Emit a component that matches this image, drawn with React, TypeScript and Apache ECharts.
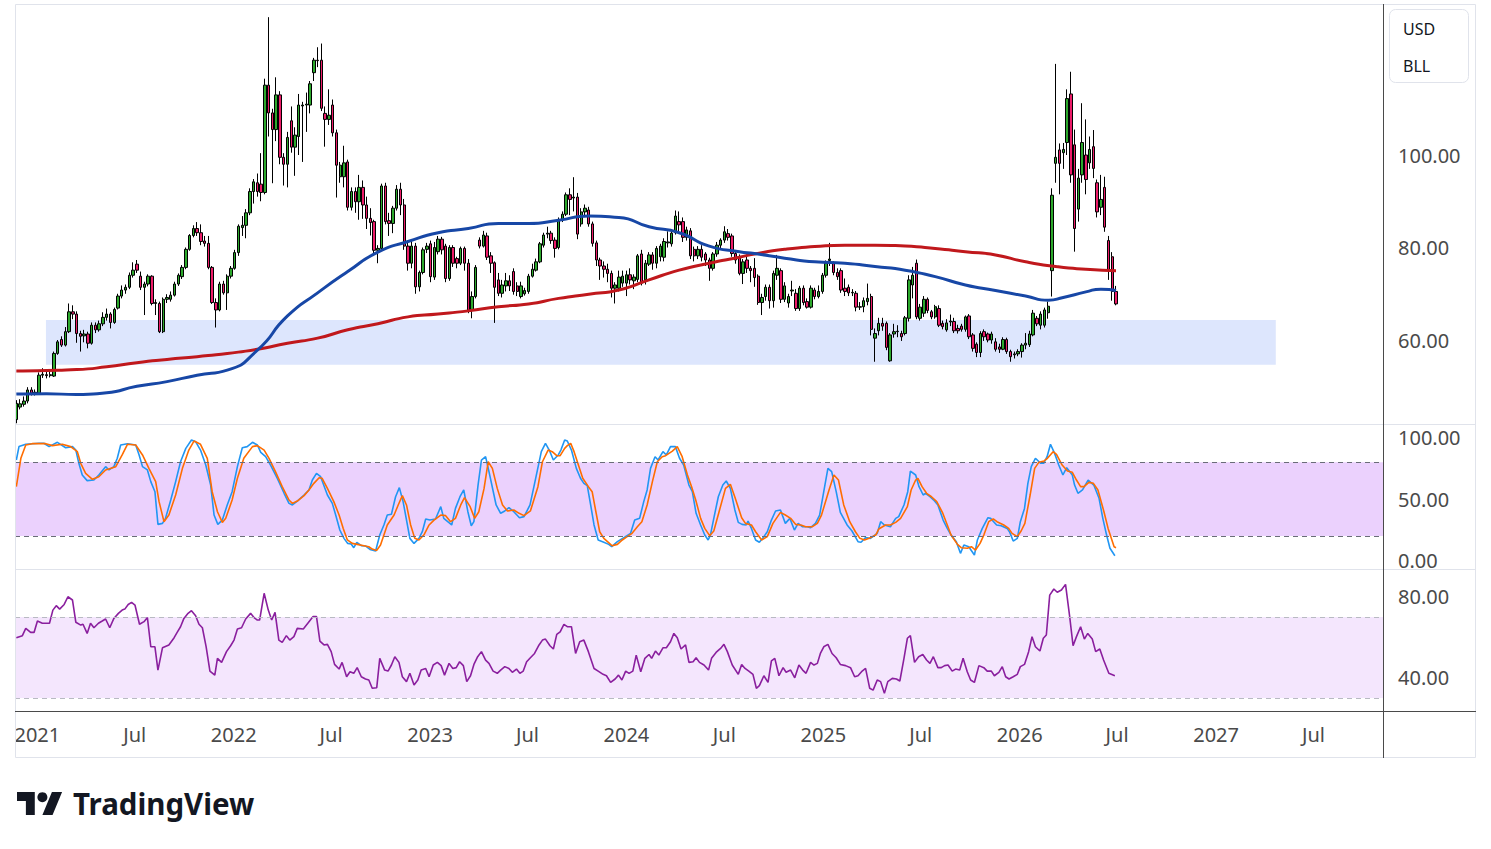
import React, { useEffect, useRef } from "react";
import * as echarts from "echarts";

echarts.graphic.registerShape(
  "tvlogo",
  echarts.graphic.extendPath("M14 22H7V11H0V4h14v18zM28 22h-8l7.5-18h8L28 22z", {})
);

// weekly candles from 2020-11-23: [open, close, low, high]
const candles: number[][] = [
  [42.8,46.3,42.0,47.0],[45.5,46.2,45.0,47.2],[46.1,46.8,45.6,47.8],[46.8,49.2,46.3,49.8],[49.2,48.5,48.0,49.8],
  [48.5,48.7,48.0,49.3],[48.5,52.4,48.2,53.0],[52.4,52.6,51.8,53.9],[52.5,52.3,51.7,53.6],[52.3,52.5,51.9,53.3],
  [52.2,57.1,52.0,57.5],[57.1,59.6,56.8,60.0],[60.1,58.9,58.5,60.8],[58.9,61.8,58.6,62.8],[61.8,66.1,61.5,67.9],
  [66.1,65.6,64.5,67.5],[65.6,61.4,59.4,66.2],[61.4,60.8,57.5,62.0],[60.9,61.3,59.5,62.2],[61.3,59.3,58.2,61.8],
  [59.3,63.2,59.0,63.8],[63.2,62.2,61.5,63.8],[62.2,63.5,61.8,64.2],[63.5,64.9,63.0,66.0],[64.9,65.6,64.2,66.8],
  [65.6,63.8,62.5,66.0],[63.8,66.6,63.5,67.0],[66.9,69.5,66.6,70.0],[69.5,70.8,69.0,71.8],[70.8,71.4,70.0,72.0],
  [71.4,74.0,71.0,74.6],[74.0,75.1,73.5,76.8],[76.4,75.1,74.5,77.3],[73.8,71.4,70.8,74.8],[71.4,72.1,65.4,72.6],
  [72.1,73.8,71.6,74.2],[73.8,67.9,67.5,74.0],[67.9,68.1,65.4,68.8],[67.9,61.8,61.5,68.3],[61.8,68.8,61.5,69.2],
  [68.8,69.2,68.0,69.9],[68.8,69.7,68.3,70.5],[69.7,72.1,69.4,72.6],[72.1,74.0,71.7,74.4],[73.7,75.7,73.2,76.2],
  [75.7,79.6,75.3,80.0],[79.6,82.6,79.3,82.9],[82.6,84.1,82.2,84.8],[84.1,83.2,82.5,85.5],[83.2,81.3,80.5,85.0],
  [81.4,80.9,80.2,82.5],[80.9,75.7,75.3,82.5],[75.7,68.1,67.8,76.0],[68.1,66.5,62.7,69.0],[66.5,72.1,66.2,72.6],
  [72.1,70.2,69.8,72.8],[70.2,73.8,66.5,74.2],[73.8,75.5,73.3,76.0],[75.5,78.9,75.2,79.5],[78.9,84.6,78.2,85.0],
  [84.3,84.8,82.5,86.8],[84.8,87.5,82.0,88.3],[87.5,92.1,87.0,92.8],[92.1,94.2,89.5,94.8],[94.0,92.1,91.0,96.0],
  [93.7,91.9,90.0,100.4],[91.9,115.1,91.5,116.5],[115.1,109.1,104.0,129.8],[109.1,105.5,93.9,110.0],[105.5,113.0,103.0,116.8],
  [113.0,99.5,98.0,113.8],[99.5,98.0,93.4,100.4],[98.0,103.8,93.0,105.0],[107.4,101.7,100.5,110.5],[101.7,104.3,95.5,106.0],
  [104.0,110.8,100.0,113.2],[110.6,110.8,98.5,111.5],[110.8,111.0,105.0,113.5],[110.8,115.4,109.0,116.0],[117.8,120.5,116.0,121.0],
  [120.5,120.4,119.0,123.3],[120.5,110.1,109.5,124.1],[109.0,107.7,101.8,110.5],[107.7,108.6,106.5,114.2],[110.8,104.8,104.0,112.0],
  [104.8,97.8,90.8,105.5],[95.3,97.8,94.0,98.5],[95.3,98.3,93.0,102.0],[98.5,88.7,88.0,99.0],[88.7,92.1,88.0,93.0],
  [92.1,89.9,87.5,93.0],[89.9,93.0,86.0,95.7],[93.0,89.2,86.2,94.5],[89.2,86.3,84.0,91.0],[86.3,85.4,82.6,88.5],
  [85.6,79.4,78.5,86.0],[79.4,79.8,76.6,80.5],[79.8,93.3,79.5,93.8],[93.3,85.6,85.0,94.0],[85.8,85.2,82.5,87.5],
  [85.2,88.5,83.1,89.0],[88.5,92.6,88.0,93.5],[92.6,89.2,87.0,94.0],[89.2,80.3,79.5,90.5],[80.3,76.6,75.0,81.5],
  [76.6,80.3,75.5,81.5],[80.3,71.5,70.0,81.0],[71.5,74.6,70.5,75.0],[74.6,79.5,74.2,80.0],[79.6,80.3,78.8,81.0],
  [80.8,73.7,72.5,81.5],[73.6,80.0,73.0,81.2],[79.1,81.8,78.5,82.5],[81.8,79.5,78.5,82.3],[80.3,73.3,72.5,80.8],
  [73.3,80.0,72.8,80.5],[80.0,76.6,75.8,80.5],[77.6,76.6,75.5,78.0],[76.6,79.8,76.2,80.2],[79.8,76.6,75.0,80.2],
  [76.6,66.4,65.8,77.5],[66.4,69.4,64.7,70.5],[69.4,75.7,69.0,76.2],[81.6,80.3,79.8,82.2],[80.3,82.7,80.0,83.6],
  [82.5,77.9,77.3,83.2],[78.2,76.6,74.5,79.0],[76.7,71.4,63.7,77.0],[73.0,70.1,69.5,74.5],[70.1,71.9,69.2,73.0],
  [71.7,72.8,70.5,74.5],[72.8,71.7,70.6,74.0],[74.8,70.5,69.8,75.5],[71.7,70.5,69.5,72.5],[69.4,71.7,69.0,72.6],
  [70.0,70.7,69.6,71.3],[70.5,73.8,70.0,74.3],[73.8,75.3,73.5,76.5],[75.1,76.9,74.8,77.6],[76.9,80.8,76.6,81.2],
  [80.5,82.7,80.0,83.2],[82.9,83.1,82.0,84.5],[83.1,81.5,80.8,83.6],[81.6,79.8,77.8,82.2],[80.0,86.0,79.6,86.5],
  [86.0,87.2,85.5,87.8],[87.2,91.4,86.8,91.9],[91.4,90.4,87.0,92.8],[90.7,90.9,87.8,95.2],[90.9,82.9,81.8,91.8],
  [85.1,87.7,84.5,88.5],[87.7,88.5,86.8,89.3],[88.1,85.1,84.5,88.8],[85.1,80.9,80.2,85.6],[81.0,77.3,76.0,81.5],
  [77.3,76.0,73.0,77.8],[76.0,75.3,73.5,77.0],[75.3,74.4,72.5,76.5],[74.4,71.2,69.2,75.0],[71.2,71.9,67.9,72.5],
  [71.2,73.6,70.5,75.0],[72.3,73.8,71.5,75.0],[72.3,74.1,69.5,75.0],[74.1,73.0,72.0,75.5],[72.8,73.6,71.0,74.2],
  [73.1,78.2,72.5,78.6],[78.6,72.3,71.8,79.5],[73.0,76.6,72.0,77.3],[76.4,78.4,76.0,79.0],[78.4,76.6,75.2,79.0],
  [76.6,79.8,75.5,80.3],[78.0,80.3,77.0,80.8],[77.9,81.3,77.0,82.0],[81.0,81.2,80.0,83.5],[80.8,83.1,80.2,84.0],
  [83.2,86.8,82.8,88.0],[85.6,84.9,83.5,87.8],[85.6,82.2,81.2,86.5],[82.2,83.8,81.5,84.5],[83.6,78.2,77.5,84.2],
  [79.6,78.2,77.0,80.2],[78.2,79.6,77.5,80.3],[79.6,77.9,77.0,80.5],[78.6,77.3,76.0,79.0],[77.3,75.5,72.8,77.8],
  [75.5,78.6,75.0,79.0],[78.6,80.5,78.0,81.2],[80.5,81.6,79.5,82.0],[81.6,83.4,81.0,84.6],[83.0,82.2,81.5,84.0],
  [82.5,78.7,78.0,83.0],[78.7,77.3,76.5,79.2],[78.0,74.4,74.0,78.5],[74.4,76.9,72.1,77.5],[77.3,75.5,74.5,78.5],
  [75.5,75.0,72.5,76.0],[75.5,73.5,71.5,77.7],[73.8,68.1,67.6,74.2],[68.1,69.2,65.4,70.0],[69.4,71.4,68.5,72.0],
  [71.4,68.5,66.8,72.0],[68.5,74.4,67.0,75.0],[74.0,75.5,73.0,78.4],[75.0,68.8,68.0,75.5],[68.8,71.7,68.2,72.5],
  [68.0,69.4,67.0,70.0],[70.6,70.8,69.5,72.8],[70.1,66.8,66.3,71.0],[66.8,71.2,66.3,71.7],[71.2,68.1,67.5,71.8],
  [68.3,67.1,66.8,69.0],[67.1,71.2,66.8,71.8],[70.8,69.4,68.8,71.3],[69.4,70.5,69.0,71.8],[70.5,74.0,70.0,74.5],
  [74.0,76.6,73.5,77.2],[77.2,77.5,76.0,81.0],[76.6,74.6,74.0,77.0],[74.6,73.7,73.0,75.5],[75.0,70.8,70.2,75.5],
  [71.2,70.5,69.5,73.3],[71.4,70.2,69.5,72.0],[70.2,70.3,69.5,71.0],[70.1,67.1,66.2,70.6],[67.1,67.2,66.5,68.2],
  [67.2,68.5,66.0,69.2],[68.3,69.0,67.5,72.2],[69.4,62.3,61.0,70.0],[60.4,61.4,55.3,62.5],[62.0,63.6,61.0,64.8],
  [63.6,63.0,62.0,64.8],[63.6,58.4,57.8,64.0],[55.5,61.1,55.3,61.5],[61.3,61.8,60.5,63.5],[61.8,61.9,60.6,63.2],
  [61.4,60.7,59.8,62.0],[61.4,64.8,61.0,65.2],[64.7,73.0,64.0,74.0],[71.9,74.0,69.0,75.8],[76.6,65.0,64.5,77.4],
  [64.7,67.1,64.2,67.8],[65.8,68.8,65.0,69.5],[68.8,66.4,65.8,69.2],[66.1,65.0,64.5,66.5],[65.0,67.2,64.6,67.6],
  [66.8,63.2,62.8,67.5],[63.6,62.9,62.3,64.2],[62.2,63.7,61.8,64.5],[63.9,64.1,63.0,65.5],[64.0,62.0,61.5,64.8],
  [62.5,62.0,61.4,63.3],[63.0,62.3,61.8,63.5],[62.3,65.0,61.8,65.3],[65.2,60.7,60.2,65.6],[61.1,58.2,57.5,61.5],
  [59.1,57.3,56.3,59.5],[57.3,61.4,56.3,61.9],[61.8,60.7,59.8,62.3],[61.3,60.0,59.5,61.6],[60.0,61.3,59.2,61.8],
  [59.6,58.0,57.5,60.4],[58.5,58.0,57.2,59.2],[58.0,60.1,57.8,60.6],[60.1,57.5,57.0,60.5],[57.5,56.4,55.3,57.9],
  [56.8,57.0,56.0,57.5],[57.0,57.5,56.5,58.0],[57.5,58.9,56.2,59.3],[58.9,59.3,58.0,61.5],[59.0,61.3,58.5,62.0],
  [61.1,65.8,60.8,66.5],[64.7,63.5,63.0,65.2],[63.2,65.6,62.3,66.2],[63.2,66.5,62.7,67.0],[65.9,67.3,64.6,68.3],
  [75.0,91.3,69.4,92.8],[98.2,99.5,94.0,119.7],[101.1,98.2,91.5,102.5],[100.5,101.2,97.0,102.6],[102.7,112.2,100.0,114.2],
  [113.2,95.7,94.0,118.0],[102.2,84.1,79.1,105.5],[88.3,95.0,85.6,97.0],[95.7,102.7,94.0,111.2],[100.0,94.7,91.5,107.7],
  [98.3,101.2,97.0,104.0],[101.8,97.1,95.0,105.4],[94.0,87.7,86.5,94.7],[88.7,90.4,87.0,95.7],[93.0,84.4,83.4,95.3],
  [81.5,75.1,73.0,82.5],[78.0,70.5,68.5,79.0],[70.5,67.8,67.5,71.7]
];

// moving averages: [week index, value]
const maBlue: number[][] = [
  [0,48.3],[8,48.4],[16,48.2],[24,48.6],[32,50.0],[40,51.0],[48,52.4],[56,53.5],[64,57.8],[72,65.2],
  [80,70.2],[88,74.8],[96,79.0],[104,81.3],[112,83.2],[120,84.1],[128,85.2],[136,85.2],[144,85.9],[152,86.8],
  [160,86.5],[168,84.5],[176,83.2],[184,80.3],[192,79.1],[196,78.7],[204,77.7],[212,76.9],[220,76.6],[228,75.9],
  [236,75.1],[244,73.7],[252,71.9],[260,70.7],[268,69.5],[274,68.6],[278,69.2],[284,70.4],[288,71.0],[292,70.7]
];
const maRed: number[][] = [
  [0,53.3],[8,53.4],[16,53.6],[24,54.2],[32,55.1],[40,55.8],[48,56.4],[56,57.1],[64,58.0],[72,59.3],
  [80,60.4],[88,62.2],[96,63.5],[104,65.0],[112,65.6],[120,66.3],[128,67.2],[136,67.8],[144,69.0],[152,69.9],
  [160,70.8],[168,73.0],[176,75.1],[184,76.6],[192,77.9],[196,78.6],[204,79.6],[212,80.2],[220,80.5],[228,80.5],
  [236,80.3],[244,79.8],[252,79.1],[260,78.4],[268,76.9],[276,75.9],[284,75.3],[292,75.0]
];

// stochastic %K / %D and RSI: [week index, value]
const stochK: number[][] = [
  [0,81.9],[0.7,92.8],[2.5,94.7],[6,95.5],[7.3,95.5],[8.7,92.8],[10.9,96.3],[13.1,91.9],[14.9,92.8],[15.8,90.0],[16.6,79.2],[17.5,69.7],[18.8,65.1],[20.6,65.6],[21.9,69.7],[23.7,76.5],[24.6,73.8],[25.9,76.5],[26.8,83.3],[27.7,94.1],[29.5,95.2],[31.7,94.1],[32.6,86.0],[33.5,76.5],[34.8,73.8],[35.7,64.3],[36.8,56.1],[37.6,29.5],[38.8,30.3],[39.6,34.4],[41,49.3],[42.3,64.3],[43.6,80.5],[45,91.4],[46.5,98.2],[47.6,96.8],[48.9,90.0],[50.3,77.8],[51.6,61.5],[52.5,37.1],[53.5,29.5],[54.7,33.0],[56,45.3],[57.3,56.1],[58.7,76.5],[60,91.9],[61.3,92.8],[62.7,96.3],[64,94.1],[64.9,88.1],[66.2,84.6],[67.5,77.8],[69.3,67.0],[71.1,54.8],[72.4,46.6],[73.3,45.3],
  [74.6,48.5],[76.4,53.4],[77.7,57.5],[78.6,65.6],[79.7,71.0],[80.8,68.3],[82.6,53.4],[83.9,46.6],[84.8,37.1],[85.9,24.9],[87,18.1],[88,14.0],[88.9,13.5],[89.6,10.5],[90.4,14.9],[91.6,12.1],[92.7,11.9],[93.9,9.1],[95.4,7.8],[96.5,20.8],[97.6,29.0],[98.5,37.1],[99.6,37.7],[100.7,52.0],[101.7,59.4],[102.7,48.0],[104.5,18.1],[105.6,14.0],[106.9,18.1],[107.8,23.5],[108.7,33.9],[109.8,33.0],[111.3,33.9],[112.7,43.9],[113.5,34.4],[115.6,29.0],[116.6,42.5],[117.8,52.0],[118.8,57.5],[119.9,39.8],[120.8,28.4],[121.5,31.7],[122.6,61.5],[123.5,81.9],[124.6,84.6],[125.5,72.4],[127.4,45.3],[128.6,38.5],[129.7,40.4],[130.8,43.1],[132.1,39.8],[133.6,34.9],[134.8,35.8],[136.4,45.3],[137.9,67.0],[139.4,88.7],[140.5,95.5],[141.5,90.0],[142.6,81.9],[143.9,86.0],[144.6,90.0],[145.6,98.2],[146.3,97.4],
  [147.4,90.0],[148.7,75.1],[149.8,67.0],[150.7,62.9],[151.6,61.0],[152.5,45.3],[153.4,29.0],[154.5,16.8],[156,14.9],[157.3,13.2],[158.1,11.3],[159.6,15.4],[161.3,18.7],[163.1,22.2],[164.2,33.0],[165.5,34.4],[166.6,48.0],[167.5,57.5],[168.4,75.1],[169.6,84.6],[170.4,81.9],[171.7,88.7],[172.6,86.0],[173.7,92.8],[175,92.8],[176.1,83.3],[177.2,77.8],[178.6,61.5],[179.5,56.1],[180.5,38.5],[181.7,29.0],[182.8,20.8],[183.7,16.8],[184.3,20.8],[185.2,34.4],[186.4,52.0],[187.6,61.5],[188.5,64.8],[189.6,58.8],[190.8,41.2],[191.7,31.1],[192.7,29.5],[193.8,29.0],[194.3,32.2],[195.2,26.2],[196.3,16.8],[197.3,14.9],[198.5,19.5],[199.4,23.5],[200.5,33.0],[201.6,40.4],[202.9,41.2],[204.2,30.3],[205.4,34.4],[206.6,24.9],[207.6,30.3],[208.7,27.6],[210,27.6],[210.9,26.8],[212.2,30.3],[213.3,37.1],[214.4,56.1],[215.5,75.1],[216.5,72.4],[217.7,56.1],[218.8,39.3],
  [220.6,29.0],[221.9,24.1],[223.5,15.4],[224.3,14.9],[225.5,18.7],[226.8,18.1],[228.6,22.2],[229.5,31.7],[230.5,29.0],[232.1,27.6],[233.5,34.4],[234.3,35.8],[235.7,45.3],[236.7,56.1],[237.4,72.9],[238.8,69.7],[239.7,60.2],[240.8,53.4],[241.4,54.8],[242.6,52.0],[243.6,49.3],[244.7,45.3],[246.1,33.0],[247.2,26.2],[248.2,20.8],[249.6,15.4],[250.7,5.9],[251.6,12.7],[252.9,11.3],[254.4,4.5],[255.2,16.8],[256.5,26.2],[258,34.9],[258.7,34.4],[260.3,29.0],[261.5,28.4],[263.1,26.2],[263.8,23.0],[264.7,15.9],[265.8,18.1],[266.6,31.7],[267.7,42.5],[268.6,62.9],[269.5,76.5],[270.6,83.3],[272,79.2],[272.8,79.2],[273.7,84.6],[274.6,94.7],[275.7,87.3],[276.8,77.8],[277.9,69.7],[278.9,75.7],[280.4,69.7],[281,61.5],[281.9,54.8],[283.1,57.5],[284.6,65.6],[286.1,61.5],[287.5,50.7],[288.5,34.4],[289.5,20.8],[290.4,10.0],[291.7,4.0]
];
const stochD: number[][] = [
  [0,60.2],[1.2,83.3],[2.5,94.1],[4.2,95.2],[7.8,95.2],[9.6,93.6],[12.2,94.7],[14.4,92.8],[16.2,88.7],[17.1,79.2],[18.4,71.0],[20.2,66.2],[21.9,68.3],[23.7,73.8],[26.4,76.5],[28.1,86.0],[29.5,94.7],[31.7,94.1],[33.5,86.0],[35.2,75.1],[37,64.3],[37.9,48.0],[39.2,31.7],[40.5,37.1],[42.3,53.4],[44.1,75.1],[45.8,90.0],[47.2,97.4],[48.9,94.7],[50.7,83.3],[52,56.1],[53.4,39.8],[54.7,31.1],[55.6,34.4],[57.3,49.3],[58.7,67.0],[60.4,83.3],[62.7,92.8],[64,93.6],[65.8,90.0],[67.1,83.3],[68.8,72.4],[70.6,60.2],[72.4,49.3],[73.3,46.6],
  [74.6,48.5],[76.4,52.9],[77.7,57.5],[79,62.9],[80.4,67.5],[81.2,67.0],[82.6,58.8],[84.3,48.0],[85.7,37.1],[86.8,26.2],[87.9,16.8],[89.2,14.0],[90.5,13.2],[92.3,12.1],[93.6,11.3],[94.5,9.4],[95.7,8.3],[96.7,12.7],[98.5,29.0],[100.3,37.1],[101.4,45.3],[102.5,52.9],[103.6,45.3],[104.7,29.0],[105.8,18.1],[106.9,16.8],[108.2,20.8],[109.6,29.0],[110.9,33.0],[112.7,37.1],[114,36.6],[115.3,31.7],[116.6,34.4],[118,45.3],[119,51.2],[120.5,43.9],[121.7,34.4],[122.8,39.8],[124.2,58.8],[125.3,80.5],[126.4,75.1],[127.7,58.8],[129.1,45.3],[130.4,40.4],[132.1,41.2],[133.5,38.5],[134.8,36.6],[136.5,40.4],[138.5,60.2],[139.7,80.5],[141.2,90.0],[142.3,88.7],[143.5,85.4],[144.4,85.4],[145.6,91.4],[146.3,93.6],
  [147.2,95.5],[148.1,88.7],[149.4,76.5],[150.4,67.0],[151.9,60.2],[152.9,56.1],[153.8,41.2],[154.9,23.5],[156,18.1],[157.2,14.9],[158.2,12.1],[159.6,13.2],[160.9,16.8],[162.2,19.5],[163.5,22.2],[164.9,27.6],[166.1,31.7],[167.5,45.3],[168.9,64.3],[170.2,80.5],[171.5,84.6],[172.4,85.4],[174.2,89.2],[175.5,92.8],[176.8,84.6],[178.2,69.7],[179.3,60.2],[180.4,49.3],[181.7,34.4],[182.8,26.2],[184.1,20.3],[185.2,24.1],[186.6,39.8],[188.3,58.8],[189.6,62.1],[190.9,50.7],[192.6,34.9],[193.6,30.3],[195.2,29.0],[196.3,23.5],[197.9,16.8],[199.4,19.5],[200.9,30.3],[202.9,39.3],[204.2,37.1],[205.6,34.4],[206.9,29.5],[208.3,29.0],[209.6,27.6],[211.4,27.6],[212.7,30.3],[213.8,37.1],[215.8,57.5],[217.1,69.7],[218.3,65.6],
  [219.7,45.3],[221.3,31.7],[222.8,23.5],[224,18.1],[225.2,16.8],[226.8,18.7],[228.2,20.8],[229,25.7],[230.8,29.0],[232.1,29.0],[233.5,31.1],[234.8,34.4],[236.6,43.9],[237.6,57.5],[238.8,65.6],[239.4,67.0],[240.5,60.2],[241.7,54.8],[243,52.0],[244.4,48.0],[245.9,39.3],[247.2,29.0],[248.2,20.8],[249.9,13.2],[250.9,10.5],[252.5,10.0],[253.6,11.3],[254.7,8.6],[255.9,14.0],[256.9,20.8],[258.2,31.7],[259.4,33.9],[260.4,31.7],[262.2,29.0],[263.5,26.2],[264.4,22.2],[265.8,19.5],[266.8,24.1],[267.8,30.3],[269.2,53.4],[270.4,75.1],[271.5,80.0],[272.9,81.1],[273.8,83.3],[275.3,88.7],[276.2,86.5],[277.7,77.8],[279.1,72.9],[280.4,71.9],[281.5,65.6],[282.6,60.2],[283.5,60.2],[284.8,63.7],[286,62.9],[287.2,57.5],[288.8,39.8],[289.9,26.2],[291.5,11.3],[292,10.5]
];
const rsi: number[][] = [
  [0,59.8],[1.6,60.8],[2.5,64.4],[3.8,62.4],[4.7,62.4],[5.6,68.0],[6.9,66.9],[8.8,66.9],[9.7,73.4],[10.6,75.6],[11.5,73.9],[12.7,76.2],[13.7,80.0],[14.9,78.4],[15.8,67.4],[17.1,66.0],[17.7,66.4],[18.8,61.9],[19.7,66.9],[20.6,64.7],[21.8,66.9],[22.8,68.0],[23.7,69.0],[24.8,64.7],[25.9,69.3],[27.1,71.8],[28.1,73.4],[28.8,73.9],[29.7,76.2],[30.6,77.2],[31.5,75.9],[32.7,66.4],[33.9,67.7],[34.8,69.7],[35.7,55.3],[36.8,55.3],[37.6,43.8],[38.8,54.8],[40.5,56.2],[41.9,59.8],[42.7,62.4],[43.6,65.2],[44.5,69.3],[45.6,71.8],[46.5,73.1],[47.6,70.6],[48.5,66.4],[49.4,64.7],[50.4,55.3],[51.4,43.3],[52.7,41.3],[53.4,49.6],[54.5,47.6],[55.8,52.9],[56.9,55.8],[57.8,58.6],[58.7,64.1],[59.8,64.7],[60.9,69.0],[62.2,71.8],[63.1,69.7],[64,68.5],[64.6,68.5],[65.8,81.7],[66.9,73.4],[67.8,68.5],[68.7,72.3],[69.7,58.6],[70.6,57.5],[71.7,60.8],[72.6,58.6],
  [73.7,60.3],[74.6,64.4],[76.2,64.1],[77.4,66.9],[78.8,70.2],[79.7,70.2],[80.6,58.1],[81.7,56.2],[82.6,56.5],[83.6,52.9],[84.5,46.6],[85.7,44.3],[86.5,47.6],[87.7,40.5],[88.6,43.0],[89.6,42.2],[90.5,45.0],[91.6,40.5],[92.7,39.4],[93.6,38.9],[94.5,34.8],[95.7,35.1],[96.5,49.6],[97.8,43.8],[98.7,43.3],[99.6,46.3],[100.5,50.4],[101.6,47.6],[102.5,40.5],[103.6,38.1],[104.5,42.2],[105.6,36.4],[106.6,38.9],[107.5,43.8],[108.7,44.6],[109.6,40.5],[110.7,46.3],[111.8,47.6],[112.8,46.0],[113.7,41.3],[114.9,47.1],[115.9,44.6],[116.8,45.0],[117.7,47.9],[118.7,46.0],[119.6,38.1],[120.6,41.0],[121.5,46.6],[122.5,50.4],[123.5,52.9],[124.6,48.7],[125.5,47.1],[126.6,43.3],[127.7,42.2],[128.6,43.8],[129.7,45.5],[130.8,44.6],[131.7,42.7],[132.8,44.3],[133.7,42.2],[134.6,43.3],[135.5,47.9],[136.5,49.9],[137.6,52.0],[138.8,56.2],[139.7,58.6],[140.5,59.1],[141.7,55.8],[142.6,54.2],[143.5,61.4],[144.4,62.7],[145.4,66.4],[146.3,65.2],
  [147.4,65.2],[148.5,52.0],[149.6,57.8],[150.7,58.6],[151.9,52.9],[153.4,44.6],[154.5,43.3],[155.8,41.7],[156.7,41.0],[157.8,37.7],[159,39.4],[159.9,41.3],[160.8,38.9],[161.8,43.3],[162.7,42.2],[163.7,43.3],[164.6,51.2],[165.8,43.0],[166.9,49.6],[168,51.5],[168.7,49.6],[169.7,53.2],[170.6,51.2],[171.7,54.8],[172.6,54.8],[173.7,57.8],[174.6,61.9],[175.5,59.8],[176.5,54.2],[177.7,56.2],[178.6,47.6],[179.7,47.9],[180.5,49.9],[181.4,47.6],[182.6,46.3],[183.8,43.8],[184.6,49.6],[185.8,52.5],[187,54.5],[187.9,56.5],[188.8,52.9],[190.1,46.3],[191.7,41.7],[192.6,46.6],[193.5,44.6],[194.5,43.3],[195.6,41.7],[196.5,34.8],[197.3,36.1],[198.5,41.0],[199.6,37.7],[200.5,48.3],[201.4,49.6],[202.5,41.0],[203.6,45.0],[204.4,42.7],[205.6,43.8],[206.7,40.0],[207.8,46.3],[208.8,43.8],[209.7,42.2],[210.9,47.6],[211.8,46.3],[212.7,47.1],[213.5,52.0],[214.4,55.3],[215.5,56.5],[216.6,52.0],[217.7,49.9],[218.8,46.6],
  [220.2,46.0],[221.5,45.0],[222.6,40.5],[223.5,41.0],[224.6,43.3],[225.5,44.6],[226.6,34.8],[227.5,33.9],[228.6,38.9],[229.5,38.1],[230.5,32.3],[231.4,38.1],[232.6,39.7],[233.7,39.4],[234.6,38.4],[235.7,49.6],[236.6,59.5],[237.4,60.8],[238.5,47.6],[239.6,50.4],[240.7,51.5],[241.7,48.8],[242.6,47.1],[243.5,50.4],[244.7,45.0],[245.6,45.0],[246.5,46.0],[247.4,46.3],[248.5,43.3],[249.4,44.3],[250.5,43.8],[251.4,49.6],[252.5,43.0],[253.4,38.9],[254.4,37.7],[255.6,46.0],[256.9,45.0],[257.8,43.3],[258.9,43.3],[259.7,41.0],[260.9,42.7],[261.8,45.5],[262.7,40.5],[263.6,39.4],[264.7,40.5],[265.8,41.7],[266.6,45.5],[267.7,46.6],[268.8,52.9],[269.7,60.3],[270.6,55.3],[271.8,53.2],[272.7,59.5],[273.5,61.1],[274.4,80.8],[275.5,83.8],[276.4,82.2],[277.5,83.3],[278.6,86.1],[279.7,70.2],[280.6,55.8],[281.5,60.3],[282.6,65.2],[283.6,59.1],[284.5,61.9],[285.7,59.1],[286.6,52.9],[287.7,54.2],[288.7,48.8],[290.1,42.2],[291.7,41.0]
];

// support zone rectangle (data space)
const zoneDates = ["2021-01-17", "2027-04-22"];
const zonePrices = [54.65, 64.3];

// axis ticks
const timeTickDates = ["2021-01-01","2021-07-01","2022-01-01","2022-07-01","2023-01-01","2023-07-01","2024-01-01","2024-07-01","2025-01-01","2025-07-01","2026-01-01","2026-07-01","2027-01-01","2027-07-01"];
const timeTickLabels = ["2021","Jul","2022","Jul","2023","Jul","2024","Jul","2025","Jul","2026","Jul","2027","Jul"];
const priceTicks = [60, 80, 100];
const stochTicks = [0, 50, 100];
const rsiTicks = [40, 80];
const stochBand = [20, 80];
const rsiBand = [30, 70];
const legendLabels = ["USD", "BLL"];

const DAY = 86400000;
const START = Date.UTC(2020, 10, 23);
const at = (i: number) => START + i * 7 * DAY;
const ts = (s: string) => Date.parse(s + "T00:00:00Z");
const X_MIN = Date.UTC(2020, 10, 20, 12);
const X_MAX = Date.UTC(2027, 10, 7, 7);

const FONT = "'Noto Sans', sans-serif";
const LABEL_COLOR = "#4a4a4a";
const DARK_LINE = "#4a4a4a";
const LIGHT_LINE = "#e0e3eb";

function buildOption(): any {
  const tickVals = timeTickDates.map(ts);
  const yLabel = (vals: number[]) => ({
    customValues: vals,
    formatter: (v: number) => Number(v).toFixed(2),
    color: LABEL_COLOR,
    fontSize: 20,
    fontFamily: FONT,
    margin: 15,
  });
  const hiddenAxis = { axisLine: { show: false }, axisTick: { show: false }, splitLine: { show: false } };
  const pts = (arr: number[][]) => arr.map(([i, v]) => [at(i), v]);

  return {
    animation: false,
    backgroundColor: "#ffffff",
    grid: [
      { left: 15, right: 108, top: 4, height: 420 },
      { left: 15, right: 108, top: 425, height: 144 },
      { left: 15, right: 108, top: 570, height: 141 },
    ],
    xAxis: [0, 1, 2].map((g) => ({
      type: "value",
      gridIndex: g,
      min: X_MIN,
      max: X_MAX,
      scale: true,
      ...hiddenAxis,
      axisLabel:
        g === 2
          ? {
              show: true,
              customValues: tickVals,
              formatter: (v: number) => {
                let best = 0;
                tickVals.forEach((t, k) => {
                  if (Math.abs(t - v) < Math.abs(tickVals[best] - v)) best = k;
                });
                return timeTickLabels[best];
              },
              color: LABEL_COLOR,
              fontSize: 20,
              fontFamily: FONT,
              margin: 13,
            }
          : { show: false },
    })),
    yAxis: [
      { type: "value", gridIndex: 0, position: "right", min: 41.84, max: 132.65, ...hiddenAxis, axisLabel: yLabel(priceTicks) },
      { type: "value", gridIndex: 1, position: "right", min: -6.84, max: 110.4, ...hiddenAxis, axisLabel: yLabel(stochTicks) },
      { type: "value", gridIndex: 2, position: "right", min: 23.6, max: 93.2, ...hiddenAxis, axisLabel: yLabel(rsiTicks) },
    ],
    series: [
      {
        type: "candlestick",
        xAxisIndex: 0,
        yAxisIndex: 0,
        barWidth: 2.9,
        z: 3,
        data: candles.map((c, i) => [at(i), c[0], c[1], c[2], c[3]]),
        itemStyle: {
          color: "#2ca82c",
          color0: "#ec1c68",
          borderColor: "#000000",
          borderColor0: "#000000",
          borderWidth: 1,
        },
      },
      {
        type: "line",
        name: "MA200",
        xAxisIndex: 0,
        yAxisIndex: 0,
        data: pts(maRed),
        smooth: 0.6,
        symbol: "none",
        z: 4,
        lineStyle: { color: "#c0181c", width: 3 },
        markArea: {
          silent: true,
          label: { show: false },
          itemStyle: { color: "#dde6fd" },
          data: [[{ xAxis: ts(zoneDates[0]), yAxis: zonePrices[0] }, { xAxis: ts(zoneDates[1]), yAxis: zonePrices[1] }]],
        },
      },
      {
        type: "line",
        name: "MA50",
        xAxisIndex: 0,
        yAxisIndex: 0,
        data: pts(maBlue),
        smooth: 0.6,
        symbol: "none",
        z: 4,
        lineStyle: { color: "#1747a6", width: 3 },
      },
      {
        type: "line",
        name: "%K",
        xAxisIndex: 1,
        yAxisIndex: 1,
        data: pts(stochK),
        symbol: "none",
        lineStyle: { color: "#2196f3", width: 1.6 },
        markArea: {
          silent: true,
          label: { show: false },
          itemStyle: { color: "#ebd1fd" },
          data: [[{ yAxis: stochBand[0] }, { yAxis: stochBand[1] }]],
        },
        markLine: {
          silent: true,
          symbol: ["none", "none"],
          label: { show: false },
          lineStyle: { color: "#6a6d78", type: [5, 4], width: 1 },
          data: [{ yAxis: stochBand[0] }, { yAxis: stochBand[1] }],
        },
      },
      {
        type: "line",
        name: "%D",
        xAxisIndex: 1,
        yAxisIndex: 1,
        data: pts(stochD),
        symbol: "none",
        lineStyle: { color: "#ff6d00", width: 1.6 },
      },
      {
        type: "line",
        name: "RSI",
        xAxisIndex: 2,
        yAxisIndex: 2,
        data: pts(rsi),
        symbol: "none",
        lineStyle: { color: "#8a1f9e", width: 1.6 },
        markArea: {
          silent: true,
          label: { show: false },
          itemStyle: { color: "#f4e6fd" },
          data: [[{ yAxis: rsiBand[0] }, { yAxis: rsiBand[1] }]],
        },
        markLine: {
          silent: true,
          symbol: ["none", "none"],
          label: { show: false },
          lineStyle: { color: "#b8bac2", type: [5, 4], width: 1 },
          data: [{ yAxis: rsiBand[0] }, { yAxis: rsiBand[1] }],
        },
      },
    ],
    graphic: [
      { type: "rect", silent: true, z: 100, shape: { x: 15.5, y: 4.5, width: 1460, height: 753 }, style: { fill: "none", stroke: LIGHT_LINE, lineWidth: 1 } },
      { type: "line", silent: true, z: 100, shape: { x1: 15, y1: 424.5, x2: 1476, y2: 424.5 }, style: { stroke: LIGHT_LINE, lineWidth: 1 } },
      { type: "line", silent: true, z: 100, shape: { x1: 15, y1: 569.5, x2: 1476, y2: 569.5 }, style: { stroke: LIGHT_LINE, lineWidth: 1 } },
      { type: "line", silent: true, z: 100, shape: { x1: 15, y1: 711.5, x2: 1476, y2: 711.5 }, style: { stroke: DARK_LINE, lineWidth: 1 } },
      { type: "line", silent: true, z: 100, shape: { x1: 1383.5, y1: 4, x2: 1383.5, y2: 758 }, style: { stroke: DARK_LINE, lineWidth: 1 } },
      { type: "rect", silent: true, z: 101, shape: { x: 1389.5, y: 9.5, width: 79, height: 73, r: 6 }, style: { fill: "#ffffff", stroke: LIGHT_LINE, lineWidth: 1 } },
      { type: "text", silent: true, z: 102, style: { x: 1403, y: 29, text: legendLabels[0], fill: "#131722", font: `16px ${FONT}`, verticalAlign: "middle" } },
      { type: "text", silent: true, z: 102, style: { x: 1403, y: 66, text: legendLabels[1], fill: "#131722", font: `16px ${FONT}`, verticalAlign: "middle" } },
      { type: "tvlogo", silent: true, z: 102, x: 17, y: 787, scaleX: 1.27, scaleY: 1.27, style: { fill: "#131722" } },
      { type: "circle", silent: true, z: 102, shape: { cx: 42.4, cy: 797.2, r: 5 }, style: { fill: "#131722" } },
      { type: "text", silent: true, z: 102, style: { x: 73, y: 803.5, text: "TradingView", fill: "#131722", font: `bold 29.5px ${FONT}`, verticalAlign: "middle" } },
    ],
  };
}

export default function App() {
  const ref = useRef<HTMLDivElement>(null);
  useEffect(() => {
    if (!ref.current) return;
    const chart = echarts.init(ref.current, null, { renderer: "svg" });
    chart.setOption(buildOption());
    return () => chart.dispose();
  }, []);
  return (
    <div
      ref={ref}
      style={{ position: "fixed", left: 0, top: 0, width: 1491, height: 849, background: "#ffffff" }}
    />
  );
}
